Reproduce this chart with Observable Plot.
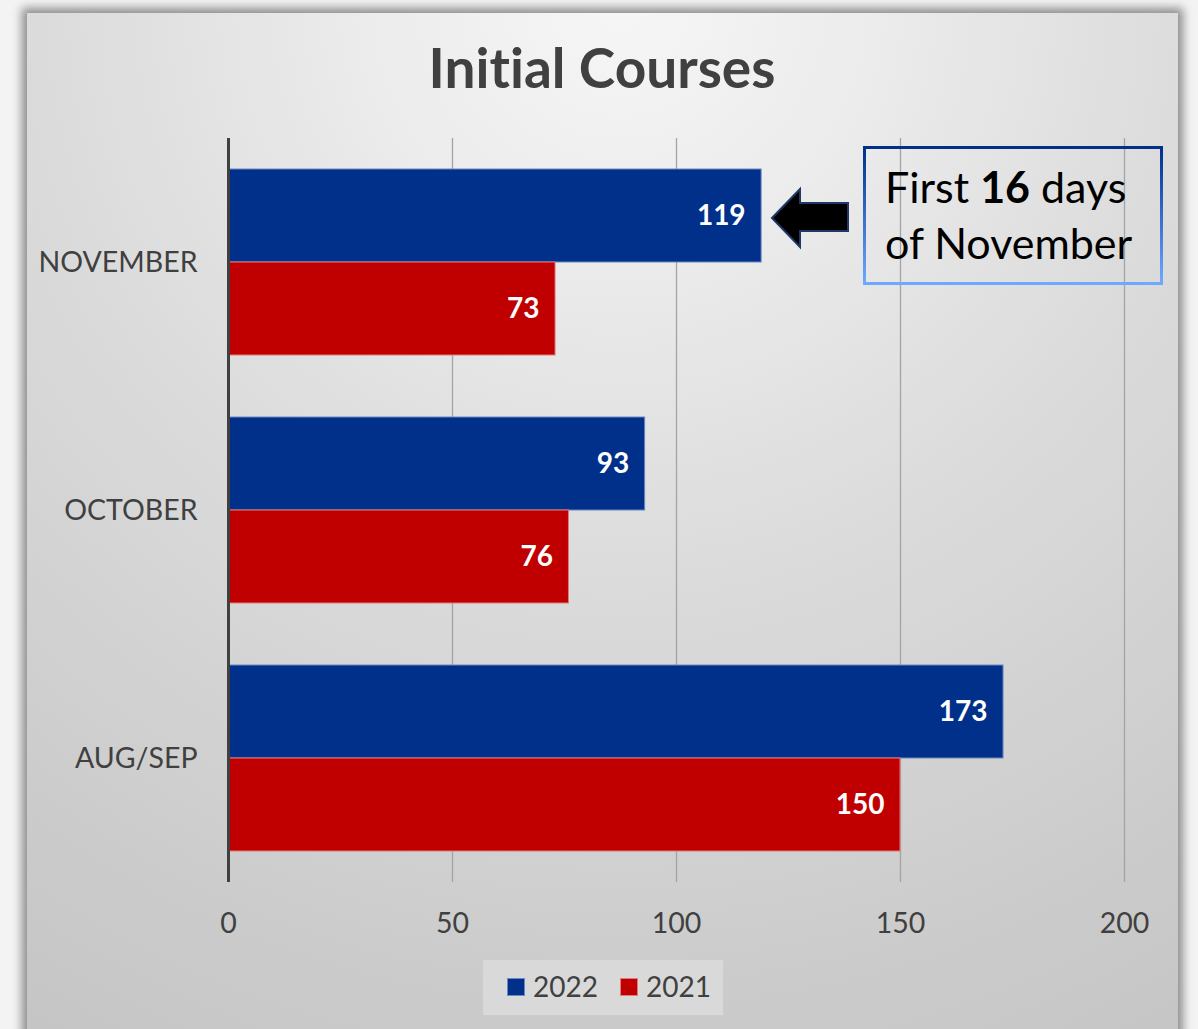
<!DOCTYPE html>
<html>
<head>
<meta charset="utf-8">
<script src="https://cdn.jsdelivr.net/npm/d3@7"></script>
<script src="https://cdn.jsdelivr.net/npm/@observablehq/plot@0.6"></script>
<style>
  html, body { margin: 0; padding: 0; width: 1198px; height: 1029px; overflow: hidden; background: #f3f3f3; font-family: Lato, "Open Sans", sans-serif; font-variant-ligatures: none; }
  svg text { font-variant-ligatures: none; }
  #panel { position: absolute; left: 27px; top: 13px; width: 1151px; height: 1100px;
    background: radial-gradient(circle at 593px -13px, #f6f6f6 0px, #ececec 250px, #dcdcdc 560px, #cbcbcb 1000px, #c3c3c3 1250px);
    box-shadow: 0 0 9px 5px rgba(0,0,0,0.42); }
  #title { position: absolute; left: 0; width: 1204px; top: 40px; text-align: center; font-weight: 700; font-size: 55px; line-height: 55px; color: #404040; white-space: nowrap; }
  #chart { position: absolute; left: 0; top: 0; }
  #note { position: absolute; left: 863px; top: 146px; width: 294px; height: 133px; border: 3px solid; border-image: linear-gradient(#00308a, #6fa8ff) 1; }
  #note div { position: absolute; left: 19px; font-size: 43px; line-height: 43px; color: #000; white-space: nowrap; }
  #arrow { position: absolute; left: 0; top: 0; }
  #legend { position: absolute; left: 483px; top: 960px; width: 240px; height: 55px; background: #d9d9d9; }
  .sw { position: absolute; top: 18px; width: 16px; height: 16px; border: 1px solid; }
  .lt { position: absolute; top: 12px; font-size: 28px; line-height: 28px; color: #404040; }
</style>
</head>
<body>
<div id="panel"></div>
<div id="title"></div>
<div id="chart"></div>
<svg id="arrow" width="1198" height="1029"></svg>
<div id="note"></div>
<div id="legend"></div>
<script>
// ---- data ----
const titleText = "Initial Courses";
const months = ["NOVEMBER", "OCTOBER", "AUG/SEP"];
const years = ["2022", "2021"];
const values2022 = [119, 93, 173];
const values2021 = [73, 76, 150];
const xTicks = [0, 50, 100, 150, 200];
const barColors = ["#00308a", "#c00000"];
const barStrokes = ["#6c88c4", "#e27a7a"];
const noteLine1 = ["First ", "16", " days"];
const noteLine2 = "of November";

// ---- table ----
const rows = months.flatMap((m, i) => [
  { month: m, year: years[0], value: values2022[i] },
  { month: m, year: years[1], value: values2021[i] }
]);
const strokeOf = d => barStrokes[years.indexOf(d.year)];

document.getElementById("title").textContent = titleText;

const chart = Plot.plot({
  width: 1198,
  height: 960,
  marginLeft: 228,
  marginRight: 74,
  marginTop: 137,
  marginBottom: 77,
  style: { background: "transparent", fontFamily: "Lato, 'Open Sans', sans-serif", fontSize: "28.5px", color: "#404040", overflow: "visible" },
  x: { domain: [0, 200], ticks: xTicks, tickSize: 0, tickPadding: 30, label: null },
  y: { domain: years, paddingInner: 0, paddingOuter: 1 / 3, axis: null },
  fy: { domain: months, padding: 0, label: null, axis: "left", tickSize: 0, tickPadding: 31 },
  color: { domain: years, range: barColors },
  marks: [
    Plot.ruleX(xTicks.filter(d => d > 0), { stroke: "#a4a4a4", strokeWidth: 1.3 }),
    Plot.barX(rows, { x: "value", y: "year", fy: "month", fill: "year", stroke: strokeOf, strokeWidth: 1 }),
    Plot.ruleX([0], { stroke: "#404040", strokeWidth: 3 }),
    Plot.text(rows, { x: "value", y: "year", fy: "month", text: d => String(d.value), textAnchor: "end", dx: -16, fill: "white", fontWeight: "bold", fontSize: 28 })
  ]
});
document.getElementById("chart").appendChild(chart);

// ---- annotation ----
const note = document.getElementById("note");
const l1 = document.createElement("div");
l1.style.top = "16px";
noteLine1.forEach((t, i) => {
  const s = document.createElement("span");
  s.textContent = t;
  if (i === 1) s.style.fontWeight = "700";
  l1.appendChild(s);
});
note.appendChild(l1);
const l2 = document.createElement("div");
l2.style.top = "72px";
l2.textContent = noteLine2;
note.appendChild(l2);

// arrow pointing at the NOVEMBER 2022 bar
const svg = d3.select("#arrow");
svg.append("polygon")
  .attr("points", "772,218 800,189 800,203 848,203 848,231 800,231 800,247")
  .attr("fill", "#000").attr("stroke", "#1f3864").attr("stroke-width", 2).attr("stroke-linejoin", "miter");

// ---- legend ----
const legend = document.getElementById("legend");
const swX = [24, 137], txX = [50, 163];
years.forEach((y, i) => {
  const sw = document.createElement("div");
  sw.className = "sw";
  sw.style.left = swX[i] + "px";
  sw.style.background = barColors[i];
  sw.style.borderColor = barStrokes[i];
  legend.appendChild(sw);
  const tx = document.createElement("div");
  tx.className = "lt";
  tx.style.left = txX[i] + "px";
  tx.textContent = y;
  legend.appendChild(tx);
});
</script>
</body>
</html>
